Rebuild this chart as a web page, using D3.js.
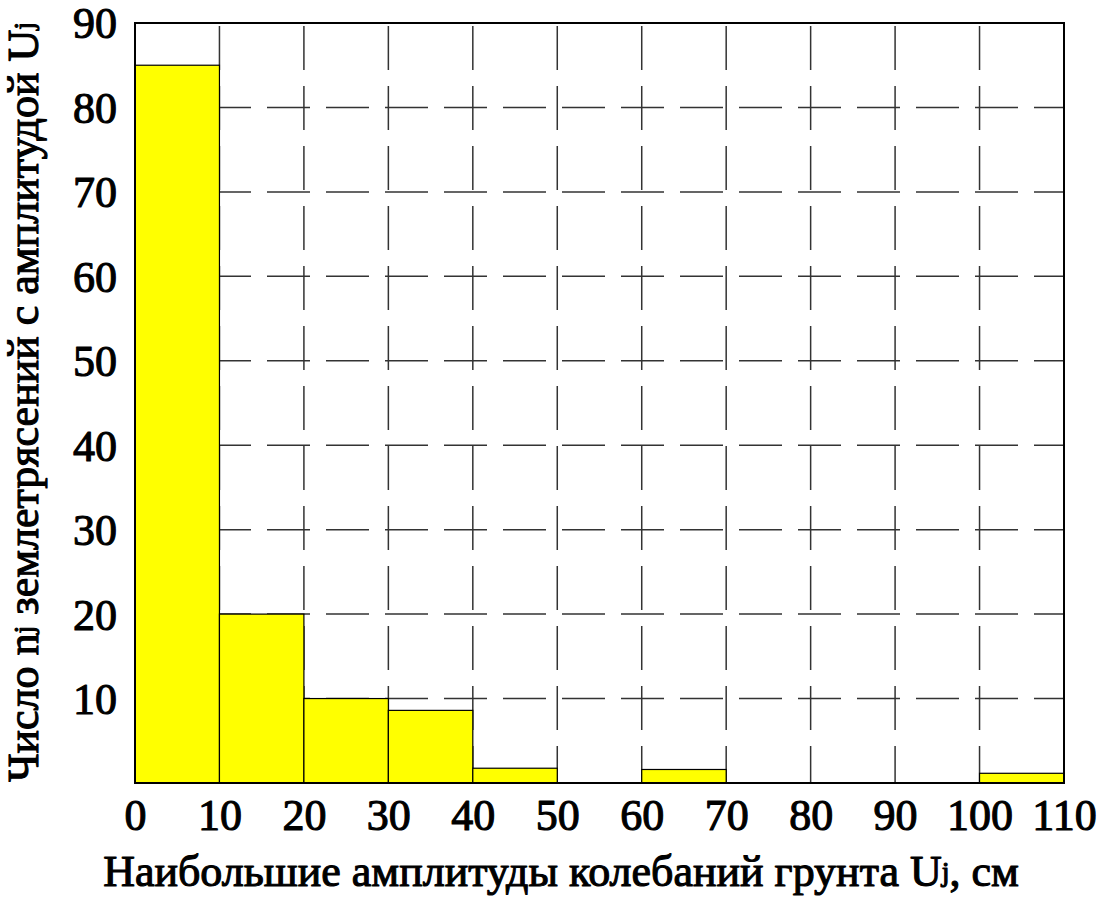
<!DOCTYPE html>
<html><head><meta charset="utf-8">
<script src="https://cdn.jsdelivr.net/npm/d3@7"></script>
<style>body{margin:0;background:#fff}svg{display:block}</style>
</head><body>
<svg id="c" width="1102" height="898"></svg>
<script>
// Data
const binStarts = [0, 10, 20, 30, 40, 50, 60, 70, 80, 90, 100];
const binWidth = 10;
const counts = [85, 20, 10, 8.6, 1.75, 0, 1.6, 0, 0, 0, 1.15];
const xTicks = [0, 10, 20, 30, 40, 50, 60, 70, 80, 90, 100, 110];
const yTicks = [10, 20, 30, 40, 50, 60, 70, 80, 90];
const xLabel = "Наибольшие амплитуды колебаний грунта U";
const yLabel = "Число n";
const yLabelMid = " землетрясений с амплитудой U";

const svg = d3.select("#c");
const m = {left: 135, top: 23, right: 1064, bottom: 783};
const x = d3.scaleLinear().domain([0, 110]).range([m.left, m.right]);
const y = d3.scaleLinear().domain([0, 90]).range([m.bottom, m.top]);
const font = "'Liberation Serif','Times New Roman',serif";

function styleText(sel, size) {
  sel.attr("font-family", font).attr("font-size", size).attr("fill", "#000")
     .attr("stroke", "#000").attr("stroke-width", 1.1).attr("stroke-linejoin", "round");
}

// Grid
const g = svg.append("g");
g.selectAll("line.h").data(yTicks.filter(d => d < 90)).join("line")
  .attr("x1", x(0)).attr("x2", x(110)).attr("y1", d => y(d)).attr("y2", d => y(d))
  .attr("stroke", "#333").attr("stroke-width", 1.5)
  .attr("stroke-dasharray", "43,16").attr("stroke-dashoffset", 45);
g.selectAll("line.v").data(xTicks.filter(d => d > 0 && d < 110)).join("line")
  .attr("x1", d => x(d)).attr("x2", d => x(d)).attr("y1", y(90)).attr("y2", y(0))
  .attr("stroke", "#333").attr("stroke-width", 1.5)
  .attr("stroke-dasharray", "44,16").attr("stroke-dashoffset", -3);

// Bars
svg.append("g").selectAll("rect").data(binStarts.map((s, i) => ({s, v: counts[i]})).filter(d => d.v > 0))
  .join("rect")
  .attr("x", d => x(d.s)).attr("width", d => x(d.s + binWidth) - x(d.s))
  .attr("y", d => y(d.v)).attr("height", d => y(0) - y(d.v))
  .attr("fill", "#ffff00").attr("stroke", "#000").attr("stroke-width", 1.2);

// Frame
svg.append("rect").attr("x", x(0)).attr("y", y(90))
  .attr("width", x(110) - x(0)).attr("height", y(0) - y(90))
  .attr("fill", "none").attr("stroke", "#000").attr("stroke-width", 2);

// Axes (labels only)
const xAxis = d3.axisBottom(x).tickValues(xTicks).tickSize(0).tickPadding(0).tickFormat(d3.format("d"));
const xa = svg.append("g").attr("transform", `translate(0,${m.bottom})`).call(xAxis);
xa.select(".domain").remove();
xa.selectAll("text").attr("dy", null).attr("y", 47).call(styleText, 44);

const yAxis = d3.axisLeft(y).tickValues(yTicks).tickSize(0).tickPadding(0).tickFormat(d3.format("d"));
const ya = svg.append("g").attr("transform", `translate(${m.left},0)`).call(yAxis);
ya.select(".domain").remove();
ya.selectAll("text").attr("x", -18).attr("dy", "0.34em").call(styleText, 44);

// X label
const xt = svg.append("text").attr("x", 561).attr("y", 886).attr("text-anchor", "middle").call(styleText, 44);
xt.append("tspan").text(xLabel);
xt.append("tspan").attr("font-size", 28).attr("dy", -5).text("j");
xt.append("tspan").attr("dy", 5).text(", см");

// Y label
const yt = svg.append("text").attr("transform", `translate(38,${402}) rotate(-90)`)
  .attr("text-anchor", "middle").call(styleText, 44);
yt.append("tspan").text(yLabel);
yt.append("tspan").attr("font-size", 28).attr("dy", -5).text("j");
yt.append("tspan").attr("dy", 5).text(yLabelMid);
yt.append("tspan").attr("font-size", 28).attr("dy", -5).text("j");
</script>
</body></html>
